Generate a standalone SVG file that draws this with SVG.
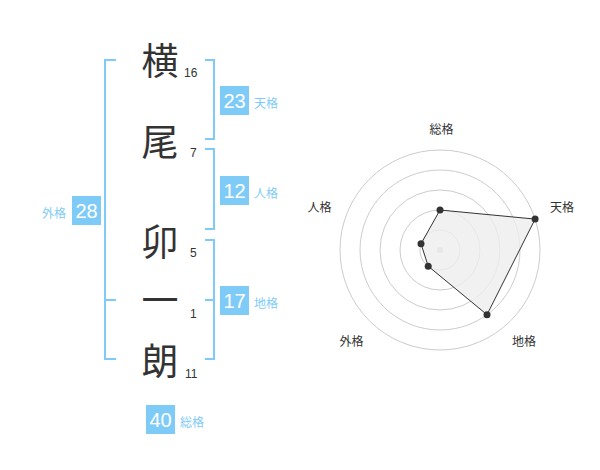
<svg xmlns="http://www.w3.org/2000/svg" width="600" height="470" viewBox="0 0 600 470">
<style>
.ch{font-family:"Noto Sans CJK JP","Noto Sans CJK SC",sans-serif;font-size:37px;fill:#333;text-anchor:middle}
.num{font-family:"Liberation Sans",Arial,sans-serif;font-size:12px;fill:#333}
.br{fill:none;stroke:#7fcbf7;stroke-width:2}
.box{fill:#7fcbf7}
.bv{font-family:"Liberation Sans",Arial,sans-serif;font-size:20px;fill:#fff;text-anchor:middle}
.bl{font-family:"Noto Sans CJK JP","Noto Sans CJK SC",sans-serif;font-size:12px;fill:#7fcbf7}
.ring{fill:none;stroke:#ccc;stroke-width:1}
.rl{font-family:"Noto Sans CJK JP","Noto Sans CJK SC",sans-serif;font-size:12px;fill:#333;text-anchor:middle}
.dot{fill:#333}
</style>
<rect width="600" height="470" fill="#fff"/>
<g id="chars">
<text class="ch" x="160" y="75">横</text>
<text class="ch" x="160" y="156">尾</text>
<text class="ch" x="160" y="256">卯</text>
<text class="ch" x="160" y="314">一</text>
<text class="ch" x="160" y="375">朗</text>
</g>
<g id="strokes">
<text class="num" x="184" y="77">16</text>
<text class="num" x="190" y="157">7</text>
<text class="num" x="190" y="257">5</text>
<text class="num" x="190" y="318">1</text>
<text class="num" x="185" y="378">11</text>
</g>
<g id="connectors">
<path class="br" d="M116,60 H105 V359 H116 M105,300 H116"/>
<path class="br" d="M205,60 H214 V139 H205"/>
<path class="br" d="M205,149 H214 V229 H205"/>
<path class="br" d="M205,240 H214 V359 H205 M205,300 H214"/>
</g>
<g id="tenkaku">
<rect class="box" x="220" y="86" width="29" height="29"/>
<text class="bv" x="234.5" y="108">23</text>
<text class="bl" x="254" y="108">天格</text>
</g>
<g id="jinkaku">
<rect class="box" x="220" y="176" width="29" height="29"/>
<text class="bv" x="234.5" y="198">12</text>
<text class="bl" x="254" y="198">人格</text>
</g>
<g id="chikaku">
<rect class="box" x="220" y="286" width="29" height="29"/>
<text class="bv" x="234.5" y="308">17</text>
<text class="bl" x="254" y="308">地格</text>
</g>
<g id="gaikaku">
<rect class="box" x="72" y="196" width="29" height="29"/>
<text class="bv" x="86.5" y="218">28</text>
<text class="bl" x="66" y="218" text-anchor="end">外格</text>
</g>
<g id="soukaku">
<rect class="box" x="146" y="405" width="29" height="29"/>
<text class="bv" x="160.5" y="427">40</text>
<text class="bl" x="180" y="427">総格</text>
</g>
<g id="radar">
<circle class="ring" cx="440" cy="250" r="20"/>
<circle class="ring" cx="440" cy="250" r="40"/>
<circle class="ring" cx="440" cy="250" r="60"/>
<circle class="ring" cx="440" cy="250" r="80"/>
<circle class="ring" cx="440" cy="250" r="100"/>
<circle cx="440" cy="250" r="3" fill="#ccc"/>
<polygon points="440,210 535.1,219.1 487,314.7 428.2,266.2 421,243.8" fill="#eee" fill-opacity="0.8" stroke="#333" stroke-width="1"/>
<circle class="dot" cx="440" cy="210" r="3.5"/>
<circle class="dot" cx="535.1" cy="219.1" r="3.5"/>
<circle class="dot" cx="487" cy="314.7" r="3.5"/>
<circle class="dot" cx="428.2" cy="266.2" r="3.5"/>
<circle class="dot" cx="421" cy="243.8" r="3.5"/>
<text class="rl" x="441.5" y="134">総格</text>
<text class="rl" x="562" y="212">天格</text>
<text class="rl" x="319.5" y="212">人格</text>
<text class="rl" x="351.5" y="346">外格</text>
<text class="rl" x="524" y="346">地格</text>
</g>
</svg>
